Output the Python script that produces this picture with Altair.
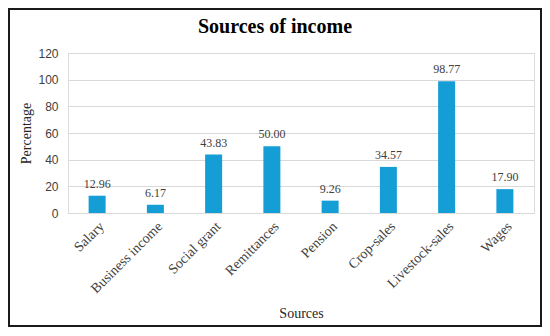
import altair as alt
import pandas as pd

categories = ["Salary", "Business income", "Social grant", "Remittances",
              "Pension", "Crop-sales", "Livestock-sales", "Wages"]
values = [12.96, 6.17, 43.83, 50.00, 9.26, 34.57, 98.77, 17.90]
y_ticks = [0, 20, 40, 60, 80, 100, 120]
chart_title = "Sources of income"

df = pd.DataFrame({"source": categories, "pct": values})
df["label"] = [f"{v:.2f}" for v in values]

W, H = 466, 160
BAR = "#159dd6"

x_enc = alt.X("source:N", sort=categories, title="Sources",
              scale=alt.Scale(paddingInner=0.7, paddingOuter=0.35),
              axis=alt.Axis(labelAngle=-45, labelAlign="right", labelBaseline="top",
                            labelPadding=6, labelFont="Liberation Serif", labelFontSize=14,
                            labelColor="#404040", domain=False, ticks=False, grid=False,
                            labelOverlap=False,
                            titleFont="Liberation Serif", titleFontSize=14,
                            titleFontWeight="normal", titleColor="#262626",
                            titleY=100, titleBaseline="middle"))
y_enc = alt.Y("pct:Q", title="Percentage",
              scale=alt.Scale(domain=[0, 120], nice=False),
              axis=alt.Axis(values=y_ticks, tickCount=7, labelFont="Liberation Sans",
                            labelFontSize=12, labelColor="#404040", labelPadding=10,
                            domain=False, ticks=False, labelOverlap=False,
                            grid=True, gridColor="#d9d9d9", gridWidth=1,
                            titleFont="Liberation Serif", titleFontSize=14,
                            titleFontWeight="normal", titleColor="#262626",
                            titlePadding=4))

base = alt.Chart(df).encode(x=x_enc, y=y_enc)
bars = base.mark_bar(color=BAR, size=17)
text = base.mark_text(font="Liberation Serif", fontSize=12, color="#404040",
                      baseline="bottom", dy=-5).encode(text="label:N")

title = alt.Chart(alt.Data(values=[{"t": chart_title}])).mark_text(
    font="Liberation Serif", fontSize=20, fontWeight="bold", color="#000000",
    align="center", baseline="middle").encode(
    x=alt.value(W / 2 - 26), y=alt.value(-26), text="t:N")

border = alt.Chart(alt.Data(values=[{}])).mark_rect(
    fill=None, stroke="#1a1a1a", strokeWidth=2).encode(
    x=alt.value(-59), x2=alt.value(W + 7), y=alt.value(-44), y2=alt.value(H + 113))

chart = alt.layer(bars, text, title, border).properties(
    width=W, height=H,
    autosize=alt.AutoSizeParams(type="none"),
    padding={"left": 60, "top": 45, "right": 8, "bottom": 115},
).configure_view(stroke=None).configure(background="white")

chart.save("out.html", embed_options={"renderer": "svg", "actions": False})
